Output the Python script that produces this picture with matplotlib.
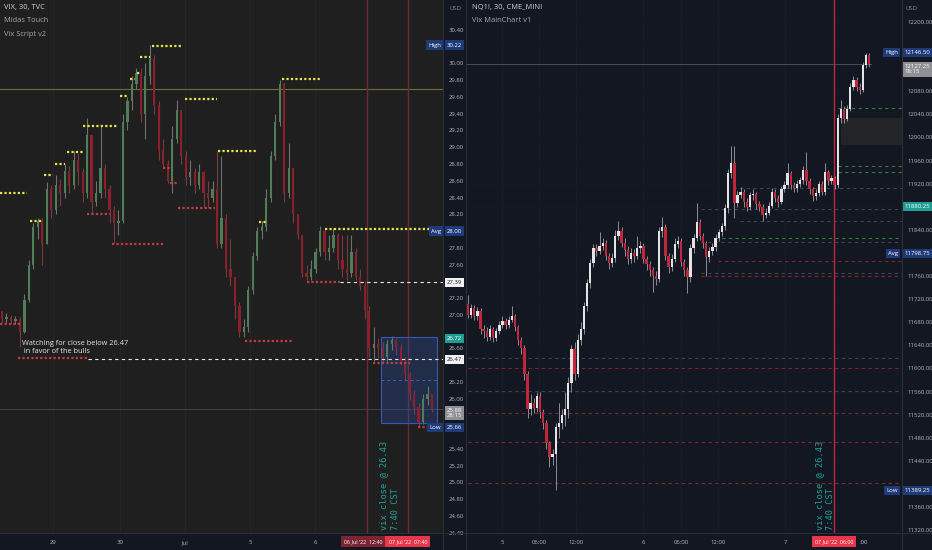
import matplotlib
matplotlib.use('Agg')
import matplotlib.pyplot as plt
import matplotlib.transforms as mtrans
from matplotlib.patches import Rectangle
from matplotlib.lines import Line2D
import numpy as np

plt.rcParams['font.family'] = ['Open Sans', 'DejaVu Sans']

# ---------------- data: VIX 30 min (left) ----------------
VIX_FIRST_OPEN = 27.05
VIX_CLOSE = [26.95, 26.98, 26.93, 26.95, 26.80, 27.18, 27.60, 28.05, 28.12, 27.85,
             28.50, 28.25, 28.55, 28.45, 28.72, 28.55, 28.85, 28.70, 28.45, 29.15,
             28.35, 28.45, 28.75, 28.50, 28.25, 28.10, 28.12, 29.30, 29.55, 29.75,
             29.88, 29.40, 29.85, 30.05, 29.50, 28.95, 28.80, 28.60, 29.10, 29.45,
             28.90, 28.65, 28.70, 28.55, 28.70, 28.45, 28.40, 28.50, 27.85, 28.15,
             27.55, 27.45, 27.10, 26.80, 26.85, 27.30, 27.70, 28.00, 28.05, 28.40,
             28.90, 29.30, 29.75, 28.45, 28.75, 28.20, 27.95, 27.50, 27.45, 27.55,
             27.75, 28.00, 27.75, 27.80, 27.95, 27.65, 27.55, 27.50, 27.75, 27.45,
             27.35, 27.05, 26.60, 26.65, 26.60, 26.50, 26.65, 26.70, 26.60, 26.45,
             26.30, 26.05, 25.90, 25.72, 26.00, 26.05, 25.88]
VIX_HIGH = [27.05, 27.02, 27.00, 26.99, 26.98, 27.25, 27.65, 28.10, 28.15, 28.15,
            28.59, 28.55, 28.67, 28.62, 28.80, 28.78, 28.95, 28.93, 28.75, 29.35,
            29.15, 28.60, 29.25, 28.80, 28.55, 28.30, 28.25, 29.40, 29.60, 29.85,
            29.95, 29.95, 30.00, 30.22, 30.10, 29.55, 29.10, 28.85, 29.25, 29.56,
            29.45, 28.95, 28.85, 28.75, 28.80, 28.72, 28.60, 28.60, 28.95, 28.90,
            28.20, 27.90, 27.45, 27.15, 26.95, 27.35, 27.75, 28.05, 28.12, 28.50,
            28.95, 29.40, 29.80, 29.78, 29.05, 28.75, 28.20, 27.95, 27.60, 27.65,
            27.80, 28.06, 28.02, 27.95, 28.04, 27.98, 27.95, 27.95, 27.95, 27.80,
            27.55, 27.40, 27.10, 26.85, 26.72, 26.68, 26.70, 26.75, 26.72, 26.65,
            26.50, 26.32, 26.10, 25.95, 26.05, 26.15, 26.05]
VIX_LOW = [26.90, 26.90, 26.89, 26.89, 26.62, 26.78, 27.15, 27.55, 27.90, 27.60,
           27.85, 28.15, 28.20, 28.30, 28.40, 28.45, 28.50, 28.55, 28.35, 28.40,
           28.22, 28.30, 28.40, 28.40, 28.10, 27.86, 27.95, 28.10, 29.20, 29.45,
           29.70, 29.30, 29.10, 29.75, 29.40, 28.85, 28.75, 28.57, 28.45, 29.05,
           28.80, 28.55, 28.55, 28.45, 28.50, 28.28, 28.28, 28.35, 27.80, 27.80,
           27.45, 27.35, 26.95, 26.74, 26.74, 26.80, 27.25, 27.65, 27.90, 28.00,
           28.35, 28.85, 29.25, 28.35, 28.40, 28.10, 27.90, 27.45, 27.41, 27.42,
           27.50, 27.70, 27.65, 27.65, 27.75, 27.55, 27.45, 27.42, 27.45, 27.42,
           27.30, 26.95, 26.50, 26.45, 26.48, 26.42, 26.45, 26.58, 26.52, 26.40,
           26.22, 25.98, 25.82, 25.66, 25.70, 25.92, 25.84]
VIX_TIME_LABELS = ['29', '30', 'Jul', '5', '6']
VIX_TIME_POS = [11.4, 26.3, 40.8, 55.4, 69.9]
VIX_YELLOW_LEVELS = [28.45, 28.12, 28.67, 28.80, 28.94, 29.25, 29.61, 29.81, 29.89, 30.08,
                     30.21, 29.58, 28.95, 28.11, 29.81, 28.03]
VIX_YELLOW_SPANS = [(-0.5, 5.6), (6.25, 8.9), (9.4, 11.4), (11.8, 14.1), (14.5, 18.1),
                    (18.1, 25.9), (26.3, 28.1), (28.6, 29.7), (30.1, 30.8), (30.8, 33.0),
                    (33.5, 40.4), (40.8, 48.0), (48.2, 56.9), (57.4, 58.9), (62.5, 71.4),
                    (72.1, 98.5)]
VIX_RED_LEVELS = [26.89, 26.49, 28.20, 27.85, 28.75, 28.57, 28.27, 26.69, 27.39, 26.43, 25.66]
VIX_RED_SPANS = [(-0.5, 4.0), (3.6, 19.2), (19.0, 24.1), (24.6, 35.9), (35.9, 37.5),
                 (37.5, 39.1), (39.3, 47.5), (54.2, 64.7), (68.1, 75.4), (82.8, 91.1),
                 (92.9, 95.1)]
VIX_OLIVE_LEVEL = 29.70
VIX_LAST = 25.88
VIX_WHITE_LEVELS = [27.39, 26.47]
VIX_WHITE_START = [75.4, 19.2]
VIX_BOX = (84.6, 97.1, 25.71, 26.74)
VIX_MARK_TIMES = [81.5, 90.6]
VIX_HIDDEN_TICKS = [30.20, 28.00, 27.40, 26.80, 26.40, 25.80, 25.60]

# ---------------- data: NQ1! 30 min (right) ----------------
NQ_FIRST_OPEN = 11712
NQ_CLOSE = [11693, 11705, 11690, 11700, 11668, 11665, 11655, 11668, 11652, 11665,
            11675, 11682, 11676, 11684, 11690, 11672, 11650, 11635, 11590, 11530,
            11540, 11532, 11552, 11525, 11505, 11470, 11446, 11452, 11498, 11505,
            11520, 11530, 11575, 11633, 11590, 11650, 11668, 11708, 11748, 11782,
            11808, 11803, 11812, 11818, 11795, 11782, 11792, 11830, 11838, 11818,
            11805, 11790, 11800, 11795, 11808, 11812, 11790, 11780, 11770, 11760,
            11755, 11838, 11845, 11795, 11775, 11790, 11815, 11820, 11785, 11770,
            11758, 11808, 11825, 11853, 11830, 11817, 11793, 11803, 11810, 11826,
            11836, 11846, 11878, 11938, 11956, 11887, 11900, 11905, 11888, 11880,
            11900, 11902, 11884, 11880, 11866, 11870, 11882, 11905, 11895, 11888,
            11910, 11918, 11938, 11918, 11912, 11920, 11926, 11943, 11925, 11910,
            11898, 11904, 11920, 11905, 11940, 11925, 11930, 11917, 12033, 12050,
            12032, 12050, 12088, 12100, 12088, 12082, 12125, 12143, 12127.25]
NQ_HIGH = [11728, 11712, 11710, 11706, 11704, 11675, 11672, 11676, 11672, 11670,
           11682, 11690, 11688, 11690, 11708, 11694, 11676, 11655, 11640, 11595,
           11555, 11548, 11560, 11560, 11530, 11510, 11475, 11460, 11505, 11540,
           11530, 11560, 11585, 11640, 11645, 11660, 11680, 11715, 11755, 11790,
           11815, 11815, 11836, 11825, 11822, 11800, 11800, 11840, 11855, 11845,
           11825, 11812, 11808, 11806, 11830, 11820, 11818, 11795, 11786, 11775,
           11768, 11845, 11862, 11850, 11800, 11798, 11825, 11830, 11825, 11790,
           11775, 11815, 11832, 11886, 11858, 11835, 11820, 11810, 11818, 11832,
           11842, 11852, 11885, 11945, 11985, 11985, 11908, 11915, 11910, 11895,
           11906, 11910, 11906, 11890, 11885, 11878, 11888, 11912, 11910, 11900,
           11916, 11925, 11955, 11942, 11922, 11926, 11932, 11950, 11975, 11930,
           11915, 11910, 11925, 11924, 11955, 11944, 11935, 11934, 12040, 12065,
           12055, 12056, 12095, 12106, 12104, 12095, 12130, 12146.5, 12146]
NQ_LOW = [11688, 11688, 11684, 11684, 11660, 11652, 11648, 11650, 11646, 11648,
          11660, 11670, 11668, 11670, 11680, 11665, 11640, 11625, 11580, 11515,
          11520, 11522, 11525, 11515, 11495, 11460, 11430, 11432, 11389, 11480,
          11495, 11500, 11515, 11560, 11580, 11585, 11640, 11660, 11700, 11740,
          11775, 11795, 11798, 11805, 11788, 11772, 11775, 11785, 11822, 11810,
          11795, 11780, 11782, 11785, 11790, 11800, 11782, 11770, 11760, 11732,
          11745, 11750, 11828, 11788, 11765, 11768, 11785, 11808, 11778, 11760,
          11730, 11750, 11800, 11820, 11822, 11808, 11760, 11785, 11796, 11804,
          11820, 11830, 11840, 11870, 11930, 11860, 11880, 11895, 11880, 11872,
          11875, 11892, 11876, 11872, 11855, 11860, 11865, 11878, 11888, 11880,
          11884, 11905, 11912, 11910, 11905, 11906, 11915, 11920, 11918, 11902,
          11890, 11892, 11898, 11900, 11900, 11918, 11920, 11910, 11912, 12025,
          12025, 12028, 12045, 12082, 12080, 12075, 12078, 12120, 12122]
NQ_TIME_LABELS = ['5', '06:00', '12:00', '6', '06:00', '12:00', '7', ':00']
NQ_TIME_POS = [10.85, 22.7, 34.5, 55.9, 68.0, 79.8, 101.2, 126.3]
NQ_LEVELS = [12051, 11950, 11940, 11912, 11876, 11855, 11826, 11819, 11786, 11765,
             11760, 11618, 11600, 11561, 11523, 11472, 11401]
NQ_LEVEL_START = [118.0, 118.0, 118.0, 84.7, 74.2, 86.8, 78.8, 74.2, 79.8, 74.2,
                  74.2, 0, 0, 0, 0, 0, 0]
NQ_LEVEL_KIND = ['g', 'g', 'g', 'k', 'k', 'k', 'g', 'k', 'r', 'k', 'r', 'k', 'r', 'k', 'r', 'r', 'r']
NQ_ZONE = (119.0, 12034, 11987)
NQ_LAST_LINE = 12127.25
NQ_MARK_TIME = 116.8
NQ_HIDDEN_TICKS = [12160, 12120, 11880, 11800, 11400]

# ---------------- layout ----------------
W, H = 932, 550
fig = plt.figure(figsize=(9.32, 5.5), dpi=100, facecolor='#131722')


def fax(x0, y0, x1, y1):
    return fig.add_axes([x0 / W, 1 - y1 / H, (x1 - x0) / W, (y1 - y0) / H])


axL = fax(0, 0, 443, 533)
axR = fax(467, 0, 902, 533)
axL.set_facecolor('#1f1f1f')
axR.set_facecolor('#131722')
axL.set_xlim(-0.45, 98.45)
axL.set_ylim(24.397, 30.757)
axR.set_xlim(-0.32, 138.5)
axR.set_ylim(11315, 12238)

AXC = '#b2b5be'
FS = 4.3
for ax in (axL, axR):
    for s in ax.spines.values():
        s.set_visible(False)
    ax.yaxis.tick_right()
    ax.tick_params(length=0, labelsize=FS, colors=AXC, pad=4)

lt = [v for v in np.round(np.arange(24.4, 30.41, 0.2), 2)
      if not any(abs(v - hv) < 1e-6 for hv in VIX_HIDDEN_TICKS)]
axL.set_yticks(lt)
axL.set_yticklabels([f'{v:.2f}' for v in lt])
rt_all = np.arange(11320, 12201, 40)
rt = [v for v in rt_all if v not in NQ_HIDDEN_TICKS]
axR.set_yticks(rt)
axR.set_yticklabels([f'{v:.2f}' for v in rt])
axL.set_xticks(VIX_TIME_POS)
axL.set_xticklabels(VIX_TIME_LABELS)
axR.set_xticks(NQ_TIME_POS)
axR.set_xticklabels(NQ_TIME_LABELS)
axL.tick_params(axis='x', pad=5)
axR.tick_params(axis='x', pad=5)

# faint grids
for p in VIX_TIME_POS:
    axL.axvline(p, color='#272727', lw=0.6, zorder=0)
for p in NQ_TIME_POS[:-1]:
    axR.axvline(p, color='#1a1e29', lw=0.6, zorder=0)
for v in rt_all:
    axR.axhline(v, color='#171b26', lw=0.5, zorder=0)


def draw_candles(ax, first_open, close, high, low, width, up_c, dn_c, wick_up, wick_dn, wlw):
    c = np.asarray(close, float)
    o = np.concatenate([[first_open], c[:-1]])
    h = np.maximum(np.asarray(high, float), np.maximum(o, c))
    l = np.minimum(np.asarray(low, float), np.minimum(o, c))
    x = np.arange(len(c))
    up = c >= o
    y0, y1 = ax.get_ylim()
    minh = (y1 - y0) * 0.0025
    for m, bc, wc in ((up, up_c, wick_up), (~up, dn_c, wick_dn)):
        ax.vlines(x[m], l[m], h[m], colors=wc, lw=wlw, zorder=4)
        b = np.minimum(o, c)[m]
        hh = np.maximum(np.abs(c - o)[m], minh)
        ax.bar(x[m], hh, width, bottom=b, color=bc, lw=0, zorder=5)


# ---------------- left panel ----------------
axL.axhline(VIX_OLIVE_LEVEL, color='#6f6d35', lw=0.8, zorder=1)
axL.axhline(VIX_LAST, color='#444444', lw=0.7, zorder=1)
for xm in VIX_MARK_TIMES:
    axL.axvline(xm, color='#6e2a33', lw=1.0, zorder=2)
bx0, bx1, by0, by1 = VIX_BOX
axL.add_patch(Rectangle((bx0, by0), bx1 - bx0, by1 - by0, fc='#2a4a9a', alpha=0.35, ec='none', zorder=2))
axL.add_patch(Rectangle((bx0, by0), bx1 - bx0, by1 - by0, fc='none', ec='#3558b8', lw=0.8, zorder=6))
axL.plot([bx0, bx1], [(by0 + by1) / 2] * 2, color='#3d5fc0', lw=0.7, ls=(0, (3, 3)), zorder=6)

draw_candles(axL, VIX_FIRST_OPEN, VIX_CLOSE, VIX_HIGH, VIX_LOW, 0.5,
             '#4f7d56', '#8c1f2b', '#707070', '#7a3a40', 0.8)

for lv, (a, b) in zip(VIX_YELLOW_LEVELS, VIX_YELLOW_SPANS):
    axL.plot([a, b], [lv, lv], color='#e6e64a', lw=1.6, ls=(0, (1, 1)), zorder=7)
for lv, (a, b) in zip(VIX_RED_LEVELS, VIX_RED_SPANS):
    axL.plot([a, b], [lv, lv], color='#c8393f', lw=1.6, ls=(0, (1, 1)), zorder=7)
for lv, a in zip(VIX_WHITE_LEVELS, VIX_WHITE_START):
    axL.plot([a, 98.5], [lv, lv], color='#e8e8e8', lw=0.8, ls=(0, (3, 3)), zorder=7)

axL.text(4.5, 26.61, 'Watching for close below 26.47\n in favor of the bulls', fontsize=5.3,
         color='#e6e6e6', ha='left', va='center', linespacing=1.15, zorder=9)

trL = mtrans.blended_transform_factory(axL.transData, axL.transAxes)
axL.text(85.3, 3 / 533, 'vix close @ 26.43', transform=trL, rotation=90, ha='center', va='bottom',
         fontsize=6.2, family='DejaVu Sans Mono', color='#1fa39b', zorder=9)
axL.text(87.8, 3 / 533, '7:40 CST', transform=trL, rotation=90, ha='center', va='bottom',
         fontsize=6.2, family='DejaVu Sans Mono', color='#1fa39b', zorder=9)

# ---------------- right panel ----------------
axR.axhline(NQ_LAST_LINE, xmax=(128.5 + 0.32) / 138.82, color='#4a4d57', lw=0.7, zorder=1)
zx, zt, zb = NQ_ZONE
axR.add_patch(Rectangle((zx, zb), 140 - zx, zt - zb, fc='#222428', ec='none', zorder=1))
kind_col = {'g': '#2f7d3b', 'r': '#7f2530', 'k': '#40434c'}
for lv, st, k in zip(NQ_LEVELS, NQ_LEVEL_START, NQ_LEVEL_KIND):
    axR.plot([st, 139], [lv, lv], color=kind_col[k], lw=0.8, ls=(0, (3, 3)), zorder=2)
axR.axvline(NQ_MARK_TIME, color='#b8283a', lw=1.0, zorder=3)

draw_candles(axR, NQ_FIRST_OPEN, NQ_CLOSE, NQ_HIGH, NQ_LOW, 0.75,
             '#e3e3e6', '#c3253a', '#8a8d96', '#8a8d96', 0.7)

trR = mtrans.blended_transform_factory(axR.transData, axR.transAxes)
axR.text(112.1, 3 / 533, 'vix close @ 26.43', transform=trR, rotation=90, ha='center', va='bottom',
         fontsize=6.2, family='DejaVu Sans Mono', color='#1fa39b', zorder=9)
axR.text(115.6, 3 / 533, '7:40 CST', transform=trR, rotation=90, ha='center', va='bottom',
         fontsize=6.2, family='DejaVu Sans Mono', color='#1fa39b', zorder=9)

# ---------------- tags / labels ----------------
NAVY = '#1e3a78'


def tag(ax, y, txt, fc, tc, xfrac, ha='left', fs=FS, pad=0.35):
    tr = mtrans.blended_transform_factory(ax.transAxes, ax.transData)
    ax.text(xfrac, y, txt, transform=tr, ha=ha, va='center', fontsize=fs, color=tc,
            clip_on=False, zorder=20, linespacing=1.1,
            bbox=dict(boxstyle=f'square,pad={pad}', fc=fc, ec='none'))


xl = 447 / 443
tag(axL, 30.22, '30.22', NAVY, 'white', xl)
tag(axL, 28.00, '28.00', NAVY, 'white', xl)
tag(axL, 27.39, '27.39', '#f0f0f0', '#222222', xl)
tag(axL, 26.72, '26.72', '#1f9e92', 'white', xl)
tag(axL, 26.47, '26.47', '#f0f0f0', '#222222', xl)
tag(axL, 25.83, '25.88\n28:15', '#8e9096', 'white', xl)
tag(axL, 25.66, '25.66', NAVY, 'white', xl)
tag(axL, 30.22, 'High', NAVY, 'white', 441 / 443, ha='right')
tag(axL, 28.00, 'Avg', NAVY, 'white', 441 / 443, ha='right')
tag(axL, 25.66, 'Low', NAVY, 'white', 441 / 443, ha='right')

xr = (904 - 467) / 435
tag(axR, 12146.5, '12146.50', NAVY, 'white', xr)
tag(axR, 12118, '12127.25\n18:15', '#8e9096', 'white', xr)
tag(axR, 11880.25, '11880.25', '#1f9e92', 'white', xr)
tag(axR, 11798.75, '11798.75', NAVY, 'white', xr)
tag(axR, 11389.25, '11389.25', NAVY, 'white', xr)
tag(axR, 12146.5, 'High', NAVY, 'white', (898 - 467) / 435, ha='right')
tag(axR, 11798.75, 'Avg', NAVY, 'white', (898 - 467) / 435, ha='right')
tag(axR, 11389.25, 'Low', NAVY, 'white', (898 - 467) / 435, ha='right')


def datebox(ax, tr, x, txt, fc):
    ax.text(x, -8.5 / 533, txt, transform=tr, ha='center', va='center', fontsize=3.9, color='white',
            clip_on=False, zorder=20, bbox=dict(boxstyle='square,pad=0.6', fc=fc, ec='none'))


datebox(axL, trL, 80.6, "06 Jul '22  12:40", '#7c2431')
datebox(axL, trL, 90.6, "07 Jul '22  07:40", '#e8374a')
datebox(axR, trR, 116.8, "07 Jul '22  06:00", '#e8374a')

# header texts
fig.text(4 / W, 1 - 8 / H, 'VIX, 30, TVC', fontsize=5.4, color='#d1d4dc', va='center')
fig.text(4 / W, 1 - 21 / H, 'Midas Touch', fontsize=5.4, color='#a6a9b0', va='center')
fig.text(4 / W, 1 - 34 / H, 'Vix Script v2', fontsize=5.4, color='#a6a9b0', va='center')
fig.text(472 / W, 1 - 8 / H, 'NQ1!, 30, CME_MINI', fontsize=5.4, color='#d1d4dc', va='center')
fig.text(472 / W, 1 - 21 / H, 'Vix MainChart v1', fontsize=5.4, color='#a6a9b0', va='center')
fig.text(449 / W, 1 - 8 / H, 'USD', fontsize=FS, color='#8a8d96', va='center')
fig.text(906 / W, 1 - 8 / H, 'USD', fontsize=FS, color='#8a8d96', va='center')

# separators
SEP = '#2a2e39'
for (x0, y0, x1, y1) in [(443, 0, 443, 550), (466, 0, 466, 550), (902, 0, 902, 550),
                         (0, 533, 466, 533), (466, 533, 932, 533)]:
    fig.add_artist(Line2D([x0 / W, x1 / W], [1 - y0 / H, 1 - y1 / H], transform=fig.transFigure,
                          color=SEP, lw=0.8, zorder=30))

fig.savefig('out.png', dpi=100, facecolor=fig.get_facecolor())
